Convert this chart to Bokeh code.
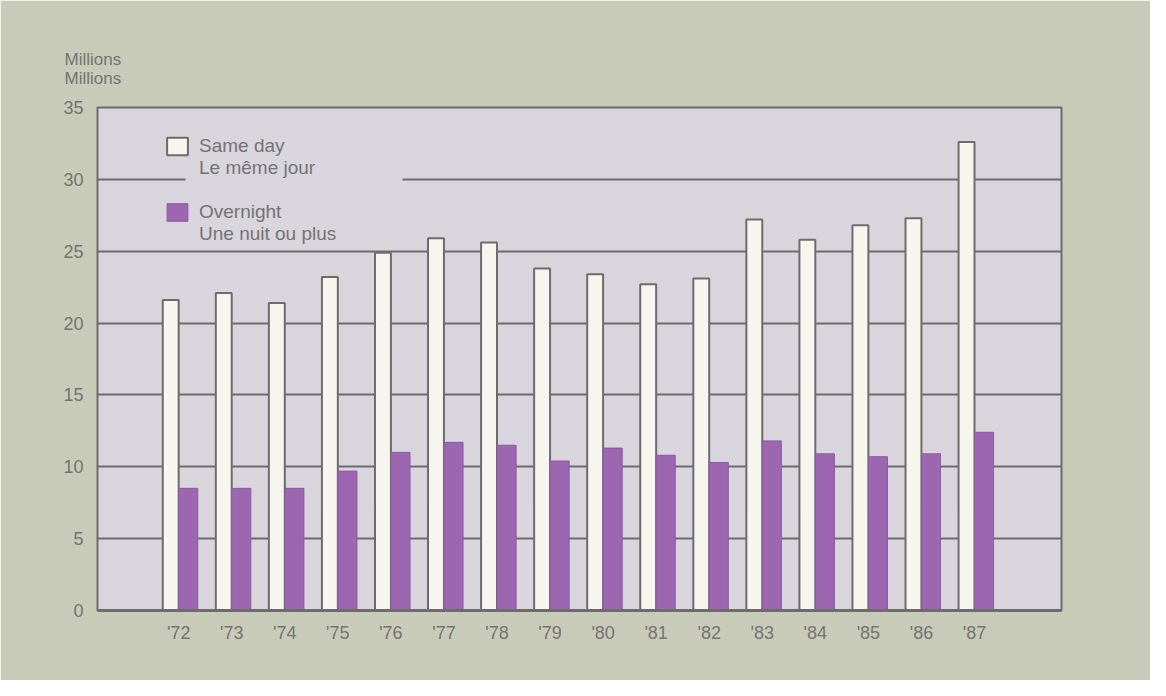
from bokeh.plotting import figure
from bokeh.models import (Range1d, FixedTicker, Legend, LegendItem, BoxAnnotation,
                          ColumnDataSource)
from bokeh.embed import file_html
from bokeh.resources import INLINE

# ---- data ----
years = ["'72", "'73", "'74", "'75", "'76", "'77", "'78", "'79",
         "'80", "'81", "'82", "'83", "'84", "'85", "'86", "'87"]
same_day = [21.6, 22.1, 21.4, 23.2, 24.9, 25.9, 25.6, 23.8,
            23.4, 22.7, 23.1, 27.2, 25.8, 26.8, 27.3, 32.6]
overnight = [8.5, 8.5, 8.5, 9.7, 11.0, 11.7, 11.5, 10.4,
             11.3, 10.8, 10.3, 11.8, 10.9, 10.7, 10.9, 12.4]
y_ticks = [0, 5, 10, 15, 20, 25, 30, 35]

# ---- styles ----
FONT = "Liberation Sans"
PANEL = "#c9cbb9"
PLOT_BG = "#d9d5dd"
LINE = "#6c6c6c"
TEXT = "#737373"
WHITE = "#f6f6ee"
PURPLE = "#9c66b1"

idx = list(range(len(years)))
src = ColumnDataSource(dict(
    x_same=[i - 0.15 for i in idx],
    x_over=[i + 0.18 for i in idx],
    same=same_day, over=overnight))

p = figure(width=1150, height=680, output_backend="svg", toolbar_location=None,
           x_range=Range1d(-1.53, 16.64), y_range=Range1d(0, 35),
           min_border_left=97, min_border_right=89, min_border_top=107,
           min_border_bottom=70)
p.background_fill_color = PLOT_BG
p.border_fill_color = PANEL
p.outline_line_color = LINE
p.outline_line_width = 2
p.outline_line_alpha = 1

p.title.text = "Millions\nMillions"
p.title.text_font = FONT
p.title.text_font_size = "17px"
p.title.text_font_style = "normal"
p.title.text_color = TEXT
p.title.align = "left"
p.title.offset = -33
p.title.standoff = 40

p.xgrid.visible = False
p.ygrid.ticker = FixedTicker(ticks=y_ticks)
p.ygrid.grid_line_color = LINE
p.ygrid.grid_line_width = 2

# hide gridline 30 behind legend area
p.add_layout(BoxAnnotation(left=0.13, right=4.22, bottom=29.6, top=30.4,
                           fill_color=PLOT_BG, fill_alpha=1, line_alpha=0,
                           level="underlay"))

r1 = p.vbar(x="x_same", top="same", width=0.3, source=src,
            fill_color=WHITE, line_color=LINE, line_width=2)
r2 = p.vbar(x="x_over", top="over", width=0.36, source=src,
            fill_color=PURPLE, line_color="#8a5a9e", line_width=1)

p.xaxis.ticker = FixedTicker(ticks=idx)
p.xaxis.major_label_overrides = {i: y for i, y in zip(idx, years)}
p.yaxis.ticker = FixedTicker(ticks=y_ticks)
for ax in (p.xaxis[0], p.yaxis[0]):
    ax.major_tick_line_color = None
    ax.minor_tick_line_color = None
    ax.major_tick_in = 0
    ax.major_tick_out = 0
    ax.major_label_text_font = FONT
    ax.major_label_text_font_size = "18px"
    ax.major_label_text_color = TEXT
p.xaxis.axis_line_color = LINE
p.xaxis.axis_line_width = 3
p.yaxis.axis_line_color = None
p.yaxis.major_label_standoff = 14
p.yaxis.major_label_text_baseline = "hanging"
p.xaxis.major_label_standoff = 12

legend = Legend(items=[
    LegendItem(label="Same day", renderers=[r1]),
    LegendItem(label="Le même jour", renderers=[]),
    LegendItem(label=" ", renderers=[]),
    LegendItem(label="Overnight", renderers=[r2]),
    LegendItem(label="Une nuit ou plus", renderers=[]),
], location=(67, 365))
legend.background_fill_alpha = 0
legend.border_line_color = None
legend.padding = 0
legend.margin = 0
legend.spacing = 0
legend.glyph_width = 26
legend.glyph_height = 22
legend.label_standoff = 9
legend.label_text_font = FONT
legend.label_text_font_size = "19px"
legend.label_text_color = TEXT
legend.label_height = 21
p.add_layout(legend)

open("out.html", "w").write(file_html(p, INLINE))
